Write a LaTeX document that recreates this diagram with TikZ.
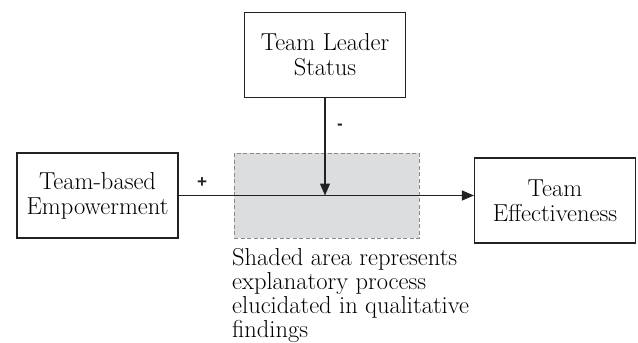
\documentclass[tikz,border=0pt]{standalone}
\usepackage{fontspec}
\newfontfamily\signfont{Liberation Sans}
\usetikzlibrary{arrows.meta}
\definecolor{edgec}{HTML}{222222}
\definecolor{shadec}{HTML}{DCDDDF}
\definecolor{dashc}{HTML}{8A8A8A}
\tikzset{
  box/.style={draw=edgec, line width=1.2pt, fill=white, minimum width=161pt, minimum height=85pt,
    inner sep=0pt, align=center, font=\fontsize{24.5}{25}\selectfont, text=black},
  shade/.style={draw=dashc, dashed, dash pattern=on 4pt off 2.5pt, line width=1pt, fill=shadec,
    minimum width=185pt, minimum height=85pt, inner sep=0pt},
  conn/.style={draw=edgec, line width=1.2pt, -{Triangle[length=12pt,width=10pt]}},
  sign/.style={font=\signfont\bfseries\fontsize{17}{17}\selectfont, text=edgec, inner sep=0pt},
  caption/.style={font=\fontsize{24.5}{24}\selectfont, align=left, text=black, inner sep=0pt}
}
\begin{document}
\begin{tikzpicture}[x=1pt,y=-1pt]
\useasboundingbox (0,0) rectangle (638,343);
\node[shade] (sh) at (326.5,195.5) {};
\node[box] (lead) at (325,55) {Team Leader\\Status};
\node[box] (emp) at (97.5,195.5) {Team-based\\Empowerment};
\node[box] (eff) at (555,200.5) {Team\\Effectiveness};
\coordinate (m) at (lead.south |- emp.east);
\draw[conn] (emp.east) -- (emp.east -| eff.west);
\draw[conn] (lead.south) -- (m);
\node[sign] (plus) at (202,183) {+};
\node[sign] (minus) at (340,127) {-};
\node[caption, anchor=north west] (cap) at (232,248) {Shaded area represents\\explanatory process\\elucidated in qualitative\\findings};
\end{tikzpicture}
\end{document}
